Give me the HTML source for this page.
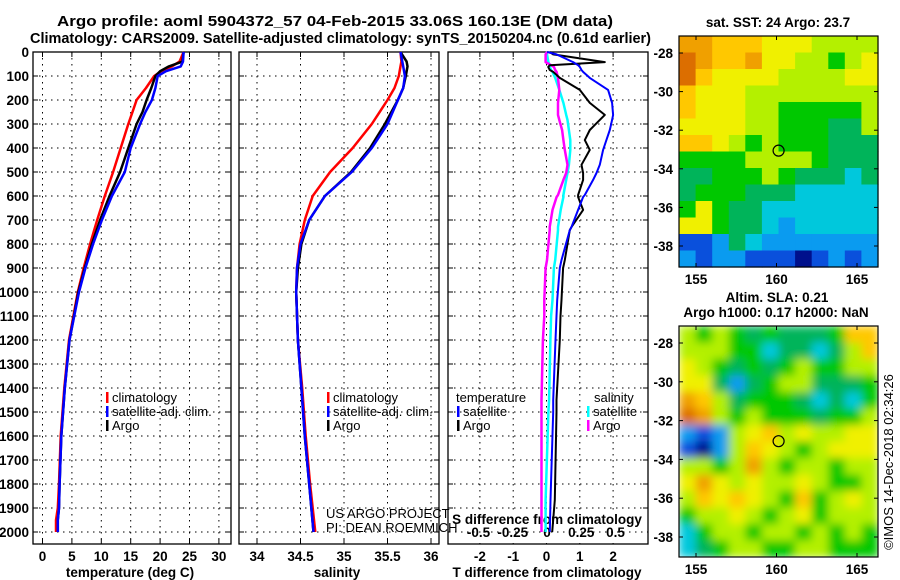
<!DOCTYPE html>
<html><head><meta charset="utf-8">
<style>
html,body{margin:0;padding:0;background:#fff;}
svg{display:block;font-family:"Liberation Sans",Arial,sans-serif;}
.t{font-weight:bold;font-size:14.5px;}
.k{font-weight:bold;font-size:13.5px;}
.g{stroke:#000;stroke-width:1;stroke-dasharray:1.5 4.5;}
</style></head>
<body>
<svg id="c" width="900" height="580" viewBox="0 0 900 580">
<text class="t" x="57" y="26" textLength="556" lengthAdjust="spacingAndGlyphs">Argo profile: aoml 5904372_57 04-Feb-2015 33.06S 160.13E (DM data)</text>
<text class="t" x="30" y="43" textLength="621" lengthAdjust="spacingAndGlyphs">Climatology: CARS2009. Satellite-adjusted climatology: synTS_20150204.nc (0.61d earlier)</text>
<g id="p1"></g>
<g id="p2"></g>
<g id="p3"></g>
<g id="m1"></g>
<g id="m2"></g>
<defs>
<filter id="bl" x="0" y="0" width="1" height="1"><feGaussianBlur stdDeviation="4.5"/></filter>
<clipPath id="cm2"><rect x="679" y="326" width="199" height="231"/></clipPath>
</defs>
<text class="k" x="778" y="27" text-anchor="middle">sat. SST: 24 Argo: 23.7</text>
<text class="k" x="777" y="302" text-anchor="middle">Altim. SLA: 0.21</text>
<text class="k" x="776" y="317" text-anchor="middle">Argo h1000: 0.17 h2000: NaN</text>
<text x="893" y="462" font-size="13" text-anchor="middle" transform="rotate(-90 893 462)">©IMOS 14-Dec-2018 02:34:26</text>
<text x="326" y="518" font-size="13">US ARGO PROJECT</text>
<text x="326" y="532" font-size="13">PI: DEAN ROEMMICH</text>
</svg>
<script>
// ---- data ----
const depthTicks=[0,100,200,300,400,500,600,700,800,900,1000,1100,1200,1300,1400,1500,1600,1700,1800,1900,2000];
const tempTicks=[0,5,10,15,20,25,30];
const salTicks=[34,34.5,35,35.5,36];
const salTickLabels=["34","34.5","35","35.5","36"];
const dTTicks=[-2,-1,0,1,2];
const dSTicks=[-0.5,-0.25,0,0.25,0.5];
const dSTickLabels=["-0.5","-0.25","0","0.25","0.5"];

const tDepth=[0,40,60,80,100,150,200,250,300,400,500,600,700,800,900,1000,1200,1400,1600,1800,1900,1950,2000];
const tClim=[24,23.3,22,20.2,19,17.6,16,15.3,14.6,13.3,12,10.6,9.3,8.1,7,6,4.5,3.7,3.1,2.8,2.6,2.3,2.3];
const tSat=[24,23.9,23.5,21,19.6,19.2,18.6,17.5,16.6,15,14,11.8,10.1,8.6,7.3,6.2,4.6,3.8,3.2,2.9,2.8,2.6,2.6];
const tArgo=[24,23.8,21.5,20,19.2,18.5,17.7,17,16,14.6,13.2,11.4,9.8,8.4,7.2,6.1,4.6,3.8,3.2,2.9,2.8,2.6,2.6];

const sDepth=[0,40,60,100,150,200,300,400,500,600,700,800,900,1000,1200,1400,1600,1800,2000];
const sClim=[35.65,35.66,35.65,35.63,35.58,35.5,35.32,35.1,34.84,34.64,34.55,34.49,34.46,34.45,34.47,34.52,34.56,34.61,34.67];
const sSat=[35.65,35.67,35.68,35.7,35.68,35.62,35.5,35.32,35.09,34.78,34.6,34.5,34.46,34.45,34.47,34.51,34.55,34.6,34.65];
const sArgo=[35.65,35.72,35.73,35.71,35.68,35.62,35.47,35.3,35.08,34.78,34.6,34.51,34.47,34.45,34.47,34.51,34.55,34.6,34.65];

const dtDepth=[0,10,42,55,62,75,83,108,158,212,262,283,325,367,408,470,504,533,596,604,658,729,742,867,900,1033,1100,1200,1450,1500,1867,2000];
const dtSat=[0.02,0.3,0.8,0.95,1.0,1.05,1.1,1.3,1.85,1.97,2.0,1.97,1.9,1.8,1.7,1.6,1.5,1.4,1.15,1.1,0.95,0.75,0.7,0.45,0.4,0.32,0.3,0.27,0.2,0.2,0.12,0.1];
const dtArgo=[0.1,0.2,1.75,0.1,0.05,0.1,0.2,0.4,1.0,1.3,1.75,1.6,1.3,1.15,1.3,1.05,1.1,1.1,0.95,0.95,1.1,0.75,0.7,0.55,0.5,0.45,0.42,0.4,0.3,0.3,0.25,0.17];
const dsSat=[-0.01,0,0.01,0.02,0.02,0.03,0.04,0.06,0.09,0.12,0.14,0.15,0.16,0.17,0.17,0.16,0.15,0.14,0.12,0.12,0.1,0.08,0.08,0.06,0.05,0.04,0.03,0.025,0.015,0.01,-0.01,-0.01];
const dsArgo=[0,-0.01,-0.01,0.03,0.05,0.06,0.07,0.08,0.09,0.08,0.08,0.09,0.11,0.12,0.13,0.15,0.14,0.12,0.08,0.07,0.04,0.02,0.02,0.0,-0.01,-0.02,-0.02,-0.03,-0.04,-0.04,-0.04,-0.04];

const mapLatTicks=[-28,-30,-32,-34,-36,-38];
const mapLonTicks=[155,160,165];
const argoLon=160.13, argoLat=-33.06;
const sstGrid=["998887776666","a98897766567","a87777666677","877766666666","877766555556","777766555446","887656555444","555566665444","445556544434","455544433333","575443333333","775443233333","112432222222","212211101212"];
const slaGrid=["656545444588","666553443468","765454565566","774245664445","986455543435","a96565554556","212678676677","102687656777","665696566566","797676676556","687876585676","566765675666","356656656565","345665566555"];
const palette={"0":"#00108c","1":"#0a50dc","2":"#0a9bf0","3":"#00c8dc","4":"#00b45a","5":"#00c800","6":"#b4f000","7":"#f0f000","8":"#ffc800","9":"#f0a000","a":"#dc6e00"};

// ---- helpers ----
const NS="http://www.w3.org/2000/svg";
function mk(parent,tag,attrs){const e=document.createElementNS(NS,tag);for(const k in attrs)e.setAttribute(k,attrs[k]);parent.appendChild(e);return e;}
const yD=d=>52+d*0.24;
const pTop=52,pBot=544;

function frame(g,x0,x1,nm){
  for(const d of depthTicks){
    const y=yD(d);
    const l=mk(g,'line',{x1:x0,x2:x1,y1:y,y2:y,class:'g'});
    
    
    mk(g,'line',{x1:x0,x2:x0+5,y1:y,y2:y,stroke:'#000'});
    mk(g,'line',{x1:x1-5,x2:x1,y1:y,y2:y,stroke:'#000'});
  }
  const r=mk(g,'rect',{x:x0,y:pTop,width:x1-x0,height:pBot-pTop,fill:'none',stroke:'#000','stroke-width':1.3});
  
  
}
function vgrid(g,x){
  const l=mk(g,'line',{x1:x,x2:x,y1:pTop,y2:pBot,class:'g'});
  
  
  mk(g,'line',{x1:x,x2:x,y1:pTop,y2:pTop+5,stroke:'#000'});
  mk(g,'line',{x1:x,x2:x,y1:pBot-5,y2:pBot,stroke:'#000'});
}
function series(g,depths,vals,xf,color,w,nm){
  const pts=depths.map((d,i)=>xf(vals[i]).toFixed(1)+','+yD(d).toFixed(1)).join(' ');
  const p=mk(g,'polyline',{points:pts,fill:'none',stroke:color,'stroke-width':w,'stroke-linejoin':'round'});
  
  
}
function txt(g,x,y,s,cls,anchor,nm){
  const t=mk(g,'text',{x:x,y:y,class:cls,'text-anchor':anchor||'start'});
  t.textContent=s;
  
  
  return t;
}
function legend(g,x,y,color,label){
  mk(g,'rect',{x:x,y:y-10,width:2.5,height:11,fill:color});
  txt(g,x+6,y,label,'','start','legend-entry').setAttribute('font-size','13');
}

// ---- panel 1 ----
const p1=document.getElementById('p1');
const xT=v=>42.5+v*5.88;
for(const v of tempTicks){vgrid(p1,xT(v));txt(p1,xT(v),561,String(v),'k','middle','temperature-tick-label');}
frame(p1,33,231,'temperature');
for(const d of depthTicks)txt(p1,29,yD(d)+5,String(d),'k','end','depth-tick-label');
series(p1,tDepth,tClim,xT,'#f00',2.5,'temperature-climatology-line');
series(p1,tDepth,tArgo,xT,'#000',2.5,'temperature-argo-line');
series(p1,tDepth,tSat,xT,'#00f',2.5,'temperature-satellite-line');
txt(p1,130,577,'temperature (deg C)','k','middle','temperature-axis-title');
legend(p1,106,402,'#f00','climatology');legend(p1,106,416,'#00f','satellite-adj. clim.');legend(p1,106,430,'#000','Argo');

// ---- panel 2 ----
const p2=document.getElementById('p2');
const xS=v=>257+(v-34)*87;
salTicks.forEach((v,i)=>{vgrid(p2,xS(v));txt(p2,xS(v),561,salTickLabels[i],'k','middle','salinity-tick-label');});
frame(p2,239,439,'salinity');
series(p2,sDepth,sClim,xS,'#f00',2.5,'salinity-climatology-line');
series(p2,sDepth,sArgo,xS,'#000',2.5,'salinity-argo-line');
series(p2,sDepth,sSat,xS,'#00f',2.5,'salinity-satellite-line');
txt(p2,337,577,'salinity','k','middle','salinity-axis-title');
legend(p2,327,402,'#f00','climatology');legend(p2,327,416,'#00f','satellite-adj. clim.');legend(p2,327,430,'#000','Argo');

// ---- panel 3 ----
const p3=document.getElementById('p3');
const xdT=v=>546.5+v*33.3;
const xdS=v=>547+v*137;
dTTicks.forEach(v=>{vgrid(p3,xdT(v));txt(p3,xdT(v),561,String(v),'k','middle','t-difference-tick-label');});
frame(p3,448,648,'difference');
mk(p3,'rect',{x:449,y:512,width:198,height:31,fill:'#fff'});
mk(p3,'line',{x1:449,x2:647,y1:532,y2:532,class:'g'});
dSTicks.forEach((v,i)=>{txt(p3,xdS(v),537,dSTickLabels[i],'k','middle','s-difference-tick-label');});
txt(p3,547,524,'S difference from climatology','k','middle','s-difference-axis-title');
series(p3,dtDepth,dsSat,xdS,'#0ff',2.5,'salinity-satellite-difference-line');
series(p3,dtDepth,dsArgo,xdS,'#f0f',2.5,'salinity-argo-difference-line');
series(p3,dtDepth,dtArgo,xdT,'#000',2,'temperature-argo-difference-line');
series(p3,dtDepth,dtSat,xdT,'#00f',2,'temperature-satellite-difference-line');
txt(p3,547,577,'T difference from climatology','k','middle','t-difference-axis-title');
txt(p3,456,402,'temperature','','start','legend-temperature-heading').setAttribute('font-size','13');
txt(p3,594,402,'salinity','','start','legend-salinity-heading').setAttribute('font-size','13');
legend(p3,457,416,'#00f','satellite');legend(p3,457,430,'#000','Argo');
legend(p3,587,416,'#0ff','satellite');legend(p3,587,430,'#f0f','Argo');

// ---- maps ----
function drawMap(id,grid,y0,y1,lat28y,lat38y,blur){
  const g=document.getElementById(id);
  const x0=679,x1=878;
  const rows=grid.length,cols=grid[0].length;
  const cw=(x1-x0)/cols,ch=(y1-y0)/rows;
  const cg=mk(g,'g',blur?{'clip-path':'url(#cm2)'}:{});
  const inner=mk(cg,'g',blur?{filter:'url(#bl)'}:{});
  if(blur)mk(inner,'rect',{x:x0,y:y0,width:x1-x0,height:y1-y0,fill:'#b4f000'});
  grid.forEach((row,r)=>{for(let c=0;c<cols;c++){
    const cell=mk(inner,'rect',{x:(x0+c*cw).toFixed(1),y:(y0+r*ch).toFixed(1),width:(cw+0.6).toFixed(1),height:(ch+0.6).toFixed(1),fill:palette[row[c]]});
    
    
  }});
  const xL=v=>696+(v-155)*16.1;
  const yL=v=>lat28y+(-28-v)*(lat38y-lat28y)/10;
  mapLatTicks.forEach(v=>{const y=yL(v);
    mk(g,'line',{x1:x0,x2:x0+4,y1:y,y2:y,stroke:'#000'});mk(g,'line',{x1:x1-4,x2:x1,y1:y,y2:y,stroke:'#000'});
    txt(g,673,y+5,String(v),'k','end','latitude-tick-label');});
  mapLonTicks.forEach(v=>{const x=xL(v);
    mk(g,'line',{x1:x,x2:x,y1:y0,y2:y0+4,stroke:'#000'});mk(g,'line',{x1:x,x2:x,y1:y1-4,y2:y1,stroke:'#000'});
    txt(g,x,y1+17,String(v),'k','middle','longitude-tick-label');});
  const fr=mk(g,'rect',{x:x0,y:y0,width:x1-x0,height:y1-y0,fill:'none',stroke:'#000','stroke-width':1.2});
  
  
  const m=mk(g,'circle',{cx:xL(argoLon),cy:yL(argoLat),r:5.5,fill:'none',stroke:'#000','stroke-width':1.2});
  
  
}
drawMap('m1',sstGrid,36,267,53,246,false);
drawMap('m2',slaGrid,326,557,343,537,true);
</script>
</body></html>
